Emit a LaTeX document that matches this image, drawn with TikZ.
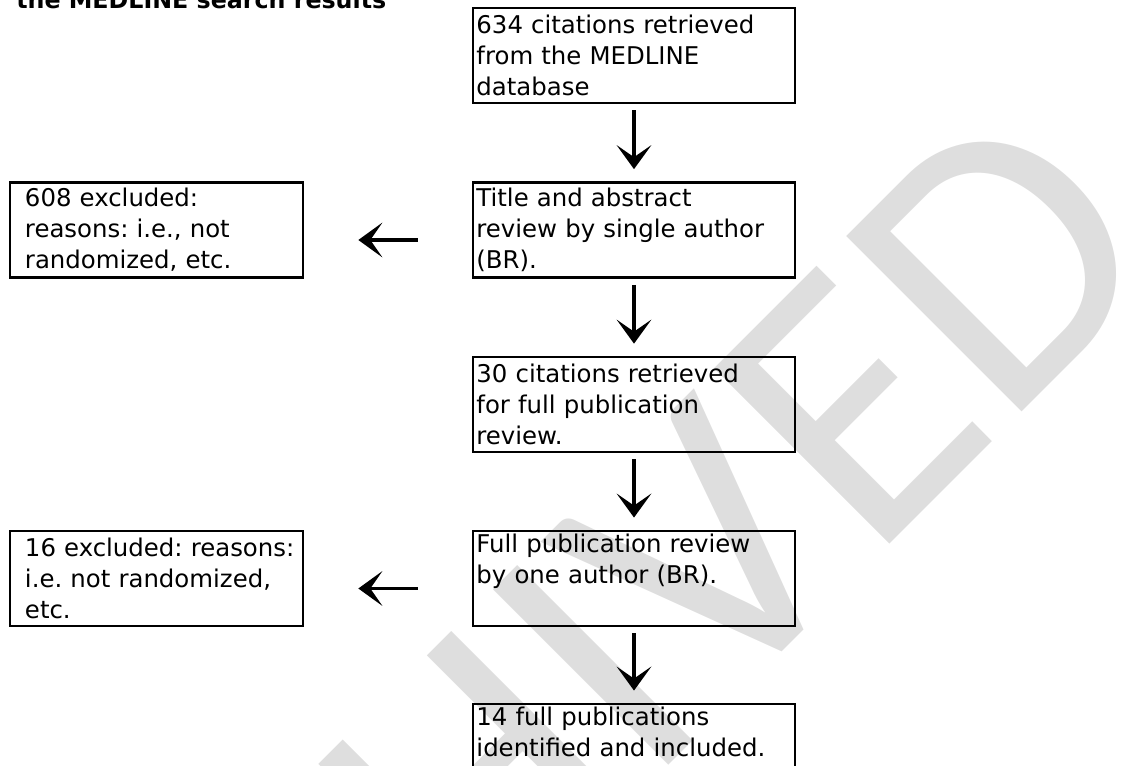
\documentclass[tikz,border=0pt]{standalone}
\usepackage{fontspec}
\setmainfont{DejaVu Sans}
\newfontfamily\stampfont{Carlito}
\usepackage{xcolor}
\definecolor{stampgray}{HTML}{DEDEDE}
\usetikzlibrary{arrows.meta, positioning}
\frenchspacing

\tikzset{
  boxtext/.style={font={\fontsize{18.3pt}{23.25pt}\selectfont}},
  flowbox/.style={boxtext, draw, line width=2pt, align=left, minimum height=71.25pt, inner ysep=2pt},
  mainbox/.style={flowbox, text width=236.3pt, inner xsep=2.6pt},
  sidebox/.style={flowbox, text width=197.25pt, inner xsep=11.25pt},
  flowarrow/.style={line width=2.8pt, -{Stealth[length=18pt, width=26pt, inset=9pt]}},
}

\begin{document}
\begin{tikzpicture}[x=0.75pt, y=-0.75pt]
  \useasboundingbox (0,0) rectangle (1129,766);
  \clip (0,0) rectangle (1129,766);

  % watermark
  \node[rotate=45, anchor=base east, text=stampgray, inner sep=0pt,
        font={\stampfont\fontsize{290pt}{290pt}\selectfont}] (stamp) at (1172,262) {ARCHIVED};

  % heading (cut off at the top)
  \node[anchor=base west, inner sep=0pt, font={\fontsize{17.8pt}{23.25pt}\selectfont\bfseries}] (heading) at (16,9) {the MEDLINE search results};

  % main column
  \node[mainbox] (search) at (634,55.5) {634 citations retrieved\\ from the MEDLINE\\ database};
  \node[mainbox] (screen) at (634,230) {Title and abstract\\ review by single author\\ (BR).};
  \node[mainbox] (fulltext) at (634,404.5) {30 citations retrieved\\ for full publication\\ review.};
  \node[mainbox] (review) at (634,578.5) {Full publication review\\ by one author (BR).\\ \strut};
  \node[mainbox] (included) at (634,751.5) {14 full publications\\ identified and included.\\ \strut};

  % exclusions
  \node[sidebox] (excla) at (156.5,230) {608 excluded:\\ reasons: i.e., not\\ randomized, etc.};
  \node[sidebox] (exclb) at (156.5,578.5) {\mbox{16 excluded: reasons:}\\ i.e. not randomized,\\ etc.};

  % arrows
  \foreach \a/\b in {search/screen, screen/fulltext, fulltext/review, review/included}
    \draw[flowarrow, shorten <=4.5pt, shorten >=9pt] (\a) -- (\b);
  \draw[flowarrow, shorten <=40.5pt, shorten >=40.5pt] ([yshift=-7.5pt]screen.west) -- ([yshift=-7.5pt]excla.east);
  \draw[flowarrow, shorten <=40.5pt, shorten >=40.5pt] ([yshift=-7.5pt]review.west) -- ([yshift=-7.5pt]exclb.east);
\end{tikzpicture}
\end{document}
